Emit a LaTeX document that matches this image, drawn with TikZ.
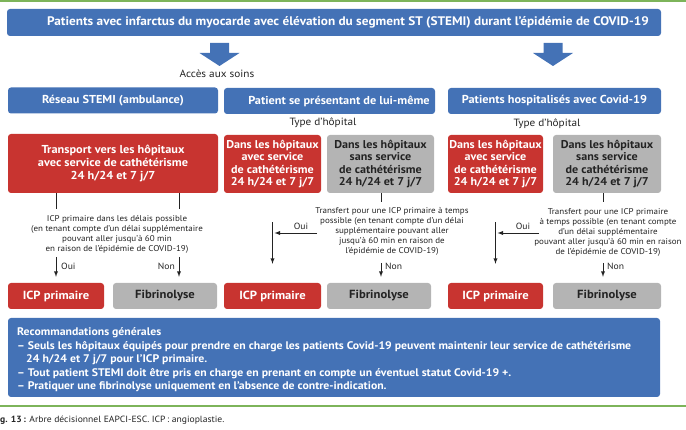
\documentclass[tikz,border=0pt]{standalone}
\usepackage{fontspec}
\setmainfont{PT Sans}[FakeStretch=1.07]
\usetikzlibrary{shapes,arrows,positioning}

\definecolor{BoxBlue}{RGB}{68,114,182}
\definecolor{BoxRed}{RGB}{200,52,48}
\definecolor{BoxGray}{RGB}{180,180,180}
\definecolor{RuleGreen}{RGB}{125,180,90}
\definecolor{TxtGray}{RGB}{35,35,35}

\begin{document}
\begin{tikzpicture}[x=1pt, y=-1pt]
		\tikzstyle{Box}		= [rounded corners=3pt, inner sep=0pt, align=center, font=\bfseries\fontsize{11.3}{12.6}\selectfont]
		\tikzstyle{BlueBox}	= [Box, fill=BoxBlue, text=white]
		\tikzstyle{RedBox}	= [Box, fill=BoxRed, text=white]
		\tikzstyle{GrayBox}	= [Box, fill=BoxGray, text=TxtGray]
		\tikzstyle{EndBox}	= [minimum height=26pt, font=\bfseries\fontsize{11.8}{13}\selectfont]
		\tikzstyle{Note}	= [inner sep=0pt, align=center, text=TxtGray, font=\fontsize{8.4}{10}\selectfont]
		\tikzstyle{Tag}		= [inner sep=0pt, text=TxtGray, font=\fontsize{9}{10}\selectfont]
		\tikzstyle{Head}	= [inner sep=0pt, text=TxtGray, font=\fontsize{10.5}{12}\selectfont]
		\tikzstyle{Link}	= [TxtGray, line width=0.9pt]

		\useasboundingbox (0,0) rectangle (686,430);
		\fill [RuleGreen] (0,0) rectangle (686,2.5);
		\fill [RuleGreen] (0,405) rectangle (686,407);

		% top of the tree
		\node (stemi) at (334,22.5) [BlueBox, minimum width=654pt, minimum height=27pt, font=\bfseries\fontsize{12.4}{14}\selectfont] {\hspace*{28pt}Patients avec infarctus du myocarde avec élévation du segment ST (STEMI) durant l'épidémie de COVID-19};
		\foreach \ax in {219.5,553}
			\fill [BoxBlue] (\ax-9.5,43) -- (\ax+9.5,43) -- (\ax+9.5,53) -- (\ax+20,53) -- (\ax,66) -- (\ax-20,53) -- (\ax-9.5,53) -- cycle;
		\node (acces) at (217,74) [Head] {Accès aux soins};

		\node (reseau) at (113,100.5) [BlueBox, minimum width=210pt, minimum height=26pt, font=\bfseries\fontsize{11.5}{13}\selectfont] {Réseau STEMI (ambulance)};
		\node (seul) at (329.5,101) [BlueBox, minimum width=211pt, minimum height=26pt, font=\bfseries\fontsize{11.5}{13}\selectfont] {\hspace*{19pt}Patient se présentant de lui-même};
		\node (hosp) at (554.5,101) [BlueBox, minimum width=213pt, minimum height=26pt, font=\bfseries\fontsize{11.5}{13}\selectfont] {Patients hospitalisés avec Covid-19};
		\node (typeM) at (323,123) [Head] {Type d'hôpital};
		\node (typeR) at (547,124) [Head] {Type d'hôpital};

		% hospitals
		\node (transp) at (113,163.5) [RedBox, minimum width=210pt, minimum height=59pt, font=\bfseries\fontsize{11.5}{12.6}\selectfont] {Transport vers les hôpitaux\\avec service de cathétérisme\\24 h/24 et 7 j/7};
		\node (redM) at (272.5,164) [RedBox, minimum width=97pt, minimum height=58pt] {Dans les hôpitaux\\avec service\\de cathétérisme\\24 h/24 et 7 j/7};
		\node (grayM) at (380.5,164) [GrayBox, minimum width=107pt, minimum height=58pt] {Dans les hôpitaux\\sans service\\de cathétérisme\\24 h/24 et 7 j/7};
		\node (redR) at (495.5,164) [RedBox, minimum width=95pt, minimum height=58pt] {Dans les hôpitaux\\avec service\\de cathétérisme\\24 h/24 et 7 j/7};
		\node (grayR) at (607,164) [GrayBox, minimum width=108pt, minimum height=58pt] {Dans les hôpitaux\\sans service\\de cathétérisme\\24 h/24 et 7 j/7};

		% decisions
		\node (delaiL) at (117,234) [Note] {ICP primaire dans les délais possible\\(en tenant compte d'un délai supplémentaire\\pouvant aller jusqu'à 60 min\\en raison de l'épidémie de COVID-19)};
		\node (delaiM) at (392,231) [Note] {Transfert pour une ICP primaire à temps\\possible (en tenant compte d'un délai\\supplémentaire pouvant aller\\jusqu'à 60 min en raison de\\l'épidémie de COVID-19)};
		\node (delaiR) at (608,232) [Note] {Transfert pour une ICP primaire\\à temps possible (en tenant compte\\d'un délai supplémentaire\\pouvant aller jusqu'à 60 min en raison\\de l'épidémie de COVID-19)};

		% outcomes
		\node (icpL) at (56,296) [RedBox, EndBox, minimum width=96pt] {ICP primaire};
		\node (fibL) at (165,296) [GrayBox, EndBox, minimum width=104pt] {Fibrinolyse};
		\node (icpM) at (272.5,296) [RedBox, EndBox, minimum width=97pt] {ICP primaire};
		\node (fibM) at (379,296) [GrayBox, EndBox, minimum width=104pt] {Fibrinolyse};
		\node (icpR) at (495.5,296) [RedBox, EndBox, minimum width=95pt] {ICP primaire};
		\node (fibR) at (607,296) [GrayBox, EndBox, minimum width=108pt] {Fibrinolyse};

		% free ends of the connectors
		\coordinate (stubL1) at (56,209);
		\coordinate (stubL2) at (179,209);
		\coordinate (ouiL) at (56,257);
		\coordinate (nonL) at (179,257);
		\coordinate (stubM) at (381,202);
		\coordinate (ouiM) at (317,233);
		\coordinate (nonM) at (381,263);
		\coordinate (stubR) at (603,202);
		\coordinate (ouiR) at (539,233);
		\coordinate (nonR) at (603,263);

		\draw [-] (transp.south -| stubL1) to (stubL1) [Link];
		\draw [-] (transp.south -| stubL2) to (stubL2) [Link];
		\draw [-latex] (ouiL) to (ouiL |- icpL.north) [Link, shorten >=6pt];
		\draw [-latex] (nonL) to (nonL |- fibL.north) [Link, shorten >=6pt];
		\node (tOuiL) at (61,266) [Tag, anchor=west] {Oui};
		\node (tNonL) at (175,266) [Tag, anchor=east] {Non};

		\draw [-latex] (redM) to (icpM) [Link, shorten <=29pt, shorten >=19pt];
		\draw [-] (grayM.south -| stubM) to (stubM) [Link];
		\draw [-latex] (ouiM) to (ouiM -| redM) [Link, shorten >=2pt];
		\draw [-latex] (nonM) to (nonM |- fibM.north) [Link, shorten >=6pt];
		\node (tOuiM) at (301,226) [Tag] {Oui};
		\node (tNonM) at (385,266) [Tag, anchor=west] {Non};

		\draw [-latex] (redR) to (icpR) [Link, shorten <=29pt, shorten >=19pt];
		\draw [-] (grayR.south -| stubR) to (stubR) [Link];
		\draw [-latex] (ouiR) to (ouiR -| redR) [Link, shorten >=2pt];
		\draw [-latex] (nonR) to (nonR |- fibR.north) [Link, shorten >=6pt];
		\node (tOuiR) at (523,226) [Tag] {Oui};
		\node (tNonR) at (607,266) [Tag, anchor=west] {Non};

		% general advice
		\node (reco) at (334,357.5) [BlueBox, minimum width=652pt, minimum height=79pt] {};
		\node (recoTxt) at (17,327.5) [anchor=north west, inner sep=0pt, align=left, text=white, font=\bfseries\fontsize{11}{13.5}\selectfont] {Recommandations générales\\
			-- Seuls les hôpitaux équipés pour prendre en charge les patients Covid-19 peuvent maintenir leur service de cathétérisme\\
			\hspace*{9pt}24 h/24 et 7 j/7 pour l'ICP primaire.\\
			-- Tout patient STEMI doit être pris en charge en prenant en compte un éventuel statut Covid-19 +.\\
			-- Pratiquer une fibrinolyse uniquement en l'absence de contre-indication.};

		\node (caption) at (0,420) [Tag, anchor=west, font=\fontsize{9}{10}\selectfont] {\textbf{g. 13\,:} Arbre décisionnel EAPCI-ESC. ICP\,: angioplastie.};
	\end{tikzpicture}
\end{document}
